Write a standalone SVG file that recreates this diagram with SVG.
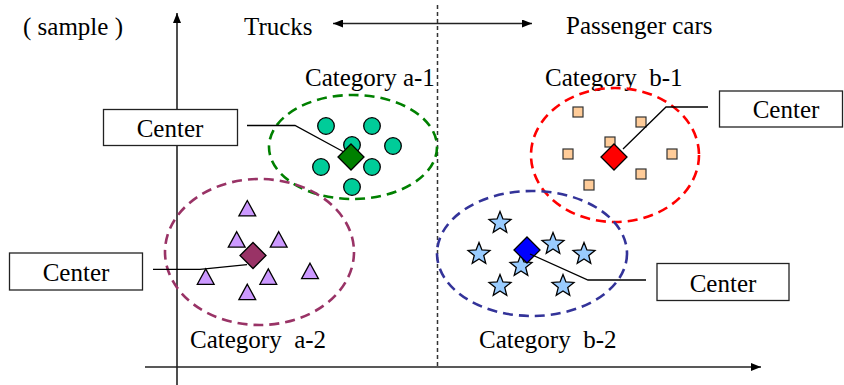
<svg xmlns="http://www.w3.org/2000/svg" width="844" height="385" viewBox="0 0 844 385">
  <style>
    text { font-family: 'Liberation Serif', Tinos, 'Times New Roman', Times, 'DejaVu Serif', serif; font-size: 25px; fill: #000; white-space: pre; }
    .mid { text-anchor: middle; }
    .axis { stroke: #222; stroke-width: 1.6; fill: none; }
    .divider { stroke: #333; stroke-width: 1.5; stroke-dasharray: 4 3; fill: none; }
    .ring { fill: none; stroke-width: 2.6; stroke-dasharray: 10 6; }
    .leader { stroke: #000; stroke-width: 1.3; fill: none; }
    .box { fill: #fff; stroke: #222; stroke-width: 1.3; }
    .pt { stroke: #000; stroke-width: 1.3; }
    .circle { fill: #00CC99; }
    .square { fill: #FFCC99; stroke: #333; stroke-width: 1.2; }
    .tri { fill: #CC99FF; }
    .star { fill: #99CCFF; }
    .dia { stroke: #000; stroke-width: 1.3; }
  </style>
  <defs>
    <marker id="arrow" viewBox="0 0 10 8" refX="10" refY="4" markerWidth="10" markerHeight="8" markerUnits="userSpaceOnUse" orient="auto-start-reverse">
      <path d="M0,0 L10,4 L0,8 Z" fill="#000"/>
    </marker>
    <circle id="dot" r="8.3"/>
    <rect id="sq" x="-5" y="-5" width="10" height="10"/>
    <polygon id="triangle" points="0,-7.8 8.4,7.6 -8.4,7.6"/>
    <polygon id="starShape" points="0,-11.5 2.94,-4.05 10.94,-3.55 4.76,1.55 6.76,9.3 0,5 -6.76,9.3 -4.76,1.55 -10.94,-3.55 -2.94,-4.05"/>
    <polygon id="diamond" points="0,-13 13,0 0,13 -13,0"/>
  </defs>

  <!-- axes and the truck / passenger-car divider -->
  <g id="axes">
    <line class="axis" x1="177" y1="385" x2="177" y2="13" marker-end="url(#arrow)"/>
    <line class="axis" x1="145" y1="367" x2="761" y2="367" marker-end="url(#arrow)"/>
    <line class="axis" x1="333" y1="23.5" x2="532" y2="23.5" marker-start="url(#arrow)" marker-end="url(#arrow)"/>
    <line class="divider" x1="437.5" y1="5" x2="437.5" y2="366"/>
  </g>

  <g id="labels">
    <text x="23" y="35">( sample )</text>
    <text x="244" y="35">Trucks</text>
    <text x="566" y="34">Passenger cars</text>
    <text x="305" y="86">Category a-1</text>
    <text x="545" y="86">Category  b-1</text>
    <text x="190" y="348">Category  a-2</text>
    <text x="479" y="348">Category  b-2</text>
  </g>

  <!-- cluster a-1 -->
  <g id="cluster-a1">
    <ellipse class="ring" cx="353" cy="147" rx="84" ry="52" stroke="#008000"/>
    <g class="pt circle">
      <use href="#dot" x="326" y="126"/>
      <use href="#dot" x="372" y="126"/>
      <use href="#dot" x="352" y="145"/>
      <use href="#dot" x="393" y="146"/>
      <use href="#dot" x="321" y="167"/>
      <use href="#dot" x="372" y="167"/>
      <use href="#dot" x="352" y="187"/>
    </g>
    <use class="dia" href="#diamond" x="351" y="157" fill="#008000"/>
  </g>

  <!-- cluster b-1 -->
  <g id="cluster-b1">
    <ellipse class="ring" cx="615" cy="155" rx="84" ry="67" stroke="#FF0000"/>
    <g class="square">
      <use href="#sq" x="578" y="112"/>
      <use href="#sq" x="641" y="122"/>
      <use href="#sq" x="610" y="142"/>
      <use href="#sq" x="568" y="154"/>
      <use href="#sq" x="672" y="154"/>
      <use href="#sq" x="641" y="174"/>
      <use href="#sq" x="589" y="185"/>
    </g>
    <use class="dia" href="#diamond" x="614" y="157" fill="#FF0000"/>
  </g>

  <!-- cluster a-2 -->
  <g id="cluster-a2">
    <ellipse class="ring" cx="259.5" cy="252" rx="94.5" ry="73" stroke="#993366"/>
    <g class="pt tri">
      <use href="#triangle" x="247.3" y="208.3"/>
      <use href="#triangle" x="236.7" y="239.5"/>
      <use href="#triangle" x="278.7" y="239.5"/>
      <use href="#triangle" x="205.7" y="276.7"/>
      <use href="#triangle" x="268.3" y="276.7"/>
      <use href="#triangle" x="310" y="271"/>
      <use href="#triangle" x="247.3" y="292"/>
    </g>
    <use class="dia" href="#diamond" x="253" y="255.5" fill="#993366"/>
  </g>

  <!-- cluster b-2 -->
  <g id="cluster-b2">
    <ellipse class="ring" cx="532" cy="253.5" rx="95" ry="62.5" stroke="#333399"/>
    <g class="pt star">
      <use href="#starShape" x="500" y="223"/>
      <use href="#starShape" x="479" y="254"/>
      <use href="#starShape" x="553" y="244"/>
      <use href="#starShape" x="584" y="254"/>
      <use href="#starShape" x="521" y="266"/>
      <use href="#starShape" x="500" y="286"/>
      <use href="#starShape" x="563" y="286"/>
    </g>
    <use class="dia" href="#diamond" x="527" y="250" fill="#0000FF"/>
  </g>

  <!-- leaders from the centre callouts to each cluster centre -->
  <g id="connectors">
    <polyline class="leader" points="247,125.5 295,125.5 343,151.5"/>
    <polyline class="leader" points="708,107 666,107 623,149"/>
    <polyline class="leader" points="153,269.3 200,269.3 247,264.7"/>
    <polyline class="leader" points="646,280 588,280 530,254"/>
  </g>

  <g id="center-a1">
    <rect class="box" x="103.5" y="109.5" width="134" height="36"/>
    <text class="mid" x="170" y="136.5">Center</text>
  </g>
  <g id="center-b1">
    <rect class="box" x="719.5" y="91" width="123" height="36"/>
    <text class="mid" x="786" y="117.5">Center</text>
  </g>
  <g id="center-a2">
    <rect class="box" x="9.5" y="253" width="133" height="37"/>
    <text class="mid" x="76" y="281">Center</text>
  </g>
  <g id="center-b2">
    <rect class="box" x="657" y="263.5" width="132" height="37"/>
    <text class="mid" x="723" y="291.5">Center</text>
  </g>
</svg>
